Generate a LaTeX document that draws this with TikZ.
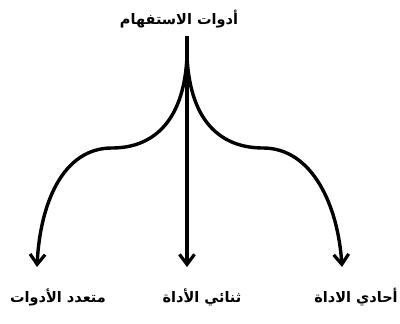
\documentclass[tikz,border=0pt]{standalone}
\usepackage{fontspec}
\newfontfamily\arabicfont[Script=Arabic]{DejaVu Sans}
\TeXXeTstate=1
\usetikzlibrary{arrows.meta}
\begin{document}
\begin{tikzpicture}[x=1pt,y=-1pt,
  lbl/.style={inner sep=0pt,font=\arabicfont\bfseries\fontsize{14.5}{17}\selectfont},
  conn/.style={line width=3.4pt,-{Straight Barb[length=10pt,width=15pt,line width=3.2pt]}}]
\useasboundingbox (0,0) rectangle (400,324);
\node[lbl] (top) at (179,19) {\beginR أدوات الاستفهام\endR};
\node[lbl] (l) at (58,297) {\beginR متعدد الأدوات\endR};
\node[lbl] (m) at (202,297) {\beginR ثنائي الأداة\endR};
\node[lbl] (r) at (356,297) {\beginR أحادي الاداة\endR};
\coordinate (s) at (187,36);
\coordinate (el) at (37,267);
\coordinate (em) at (187,267);
\coordinate (er) at (342,267);
\draw[line width=3.4pt] (s) -- (187,58);
\draw[conn] (187,56) .. controls (184,125) and (150,148) .. (112,148)
   .. controls (62,148) and (40,205) .. (el);
\draw[conn] (187,56) .. controls (190,125) and (224,148) .. (263,148)
   .. controls (312,148) and (338,205) .. (er);
\draw[conn] (s) -- (em);
\end{tikzpicture}
\end{document}
